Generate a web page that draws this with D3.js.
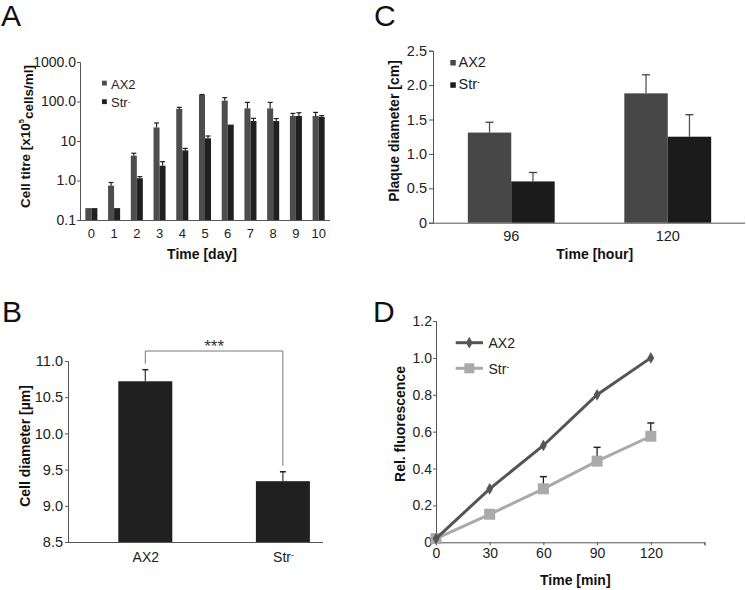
<!DOCTYPE html>
<html><head><meta charset="utf-8">
<script src="https://cdn.jsdelivr.net/npm/d3@7"></script>
<style>
body{margin:0;background:#fff;}
svg{display:block;font-family:"Liberation Sans",Arial,sans-serif;}
</style></head>
<body><svg id="c" width="746" height="590"></svg>
<script>
// ---------- DATA ----------
const days = [0,1,2,3,4,5,6,7,8,9,10];
const ax2Titre    = [0.2, 0.74, 4.25, 22, 65, 146, 105, 67, 67, 43, 43];
const ax2TitreErr = [0, 0.15, 0.65, 6.6, 6, 4, 20, 28, 28, 7, 10];
const strTitre    = [0.2, 0.2, 1.14, 2.37, 5.8, 11.7, 26, 32, 32, 43, 41];
const strTitreErr = [0, 0, 0.11, 0.63, 0.7, 1.7, 0, 5.5, 5, 9, 3];
const titreTicks = [0.1, 1, 10, 100, 1000];
const titreTickLabels = ["0.1","1.0","10","100.0","1000.0"];

const strains = ["AX2","Str"];
const cellDiam = [10.72, 9.34];
const cellDiamErr = [0.16, 0.13];
const diamTicks = [8.5, 9.0, 9.5, 10.0, 10.5, 11.0];

const hours = ["96","120"];
const ax2Plaque = [1.31, 1.88];
const ax2PlaqueErr = [0.15, 0.27];
const strPlaque = [0.60, 1.25];
const strPlaqueErr = [0.13, 0.32];
const plaqueTicks = [0, 0.5, 1.0, 1.5, 2.0, 2.5];

const minutes = [0, 30, 60, 90, 120];
const ax2Fluor = [0.02, 0.29, 0.525, 0.80, 1.0];
const strFluor = [0.02, 0.152, 0.29, 0.44, 0.575];
const strFluorErr = [0, 0, 0.066, 0.075, 0.072];
const fluorTicks = [0, 0.2, 0.4, 0.6, 0.8, 1.0, 1.2];
const minTicks = [0, 30, 60, 90, 120, 150];

// ---------- STYLE ----------
const AXIS = "#555";
const C_AX2 = "#4d4d4d", C_STR = "#202020";
const svg = d3.select("#c");

function styleAxis(g, fs){
  g.select(".domain").attr("stroke", AXIS);
  g.selectAll(".tick line").attr("stroke", AXIS);
  g.selectAll(".tick text").attr("fill","#222").style("font-size", fs+"px").style("font-family","Liberation Sans, Arial, sans-serif");
}
function strLabel(sel, base){
  sel.text(null);
  sel.append("tspan").text(base);
  sel.append("tspan").text("-").attr("dy","-0.45em").style("font-size","0.6em");
}
function panelLetter(t,x,y){
  svg.append("text").attr("x",x).attr("y",y).text(t).style("font-size","30px").attr("fill","#111");
}
function yTitle(t,x,y){
  return svg.append("text").attr("transform",`translate(${x},${y}) rotate(-90)`).attr("text-anchor","middle")
    .attr("dominant-baseline","central").style("font-size","14px").style("font-weight","bold").attr("fill","#111").text(t);
}
function xTitle(t,x,y){
  svg.append("text").attr("x",x).attr("y",y).attr("text-anchor","middle").style("font-size","14px").style("font-weight","bold").attr("fill","#111").text(t);
}

// ================= PANEL A =================
panelLetter("A",1,26);
{
  const y = d3.scaleLog().domain([0.1,1000]).range([220,62]);
  const x0 = d3.scaleBand().domain(days).range([80,330]).paddingInner(0.47).paddingOuter(0.235);
  const x1 = d3.scaleBand().domain(["AX2","Str"]).range([0,x0.bandwidth()]);
  const gy = svg.append("g").attr("transform","translate(80,0)")
    .call(d3.axisLeft(y).tickValues(titreTicks).tickFormat((d,i)=>titreTickLabels[i]).tickSize(3).tickPadding(1));
  styleAxis(gy,14);
  const gx = svg.append("g").attr("transform","translate(0,220)")
    .call(d3.axisBottom(x0).tickSize(0).tickPadding(9));
  styleAxis(gx,13);
  gx.select(".domain").attr("d","M80,0.5H330");
  const series = [["AX2",ax2Titre,ax2TitreErr,C_AX2],["Str",strTitre,strTitreErr,C_STR]];
  series.forEach(([k,vals,errs,col])=>{
    const g = svg.append("g");
    g.selectAll("rect").data(days).join("rect")
      .attr("x",d=>x0(d)+x1(k)).attr("width",x1.bandwidth())
      .attr("y",(d,i)=>y(vals[i])).attr("height",(d,i)=>y(0.1)-y(vals[i])).attr("fill",col);
    days.forEach((d,i)=>{
      if(!errs[i]) return;
      const cx = x0(d)+x1(k)+x1.bandwidth()/2;
      g.append("line").attr("x1",cx).attr("x2",cx).attr("y1",y(vals[i])).attr("y2",y(vals[i]+errs[i])).attr("stroke","#222").attr("stroke-width",1.2);
      g.append("line").attr("x1",cx-2.5).attr("x2",cx+2.5).attr("y1",y(vals[i]+errs[i])).attr("y2",y(vals[i]+errs[i])).attr("stroke","#222").attr("stroke-width",1.2);
    });
  });
  // legend
  const lg = [["AX2",C_AX2,80.7],["Str",C_STR,99.3]];
  lg.forEach(([k,col,yy])=>{
    svg.append("rect").attr("x",102).attr("y",yy).attr("width",4.8).attr("height",4.8).attr("fill",col);
    const t = svg.append("text").attr("x",111).attr("y",yy+7.8).style("font-size","13px").attr("fill","#222");
    if(k==="Str") strLabel(t,"Str"); else t.text(k);
  });
  const yt = svg.append("text").attr("transform","translate(25,136.5) rotate(-90)").attr("text-anchor","middle")
    .attr("dominant-baseline","central").style("font-size","13.5px").style("font-weight","bold").attr("fill","#111");
  yt.append("tspan").text("Cell titre [x10");
  yt.append("tspan").text("5").attr("dy","-0.5em").style("font-size","0.55em");
  yt.append("tspan").text("cells/ml]").attr("dy","0.5em");
  xTitle("Time [day]",202,259);
}

// ================= PANEL B =================
panelLetter("B",2,322);
{
  const y = d3.scaleLinear().domain([8.5,11.0]).range([542,361]);
  const x = d3.scalePoint().domain(strains).range([145.3,282.9]);
  const bw = 54;
  const gy = svg.append("g").attr("transform","translate(68,0)")
    .call(d3.axisLeft(y).tickValues(diamTicks).tickFormat(d3.format(".1f")).tickSize(3).tickPadding(2));
  styleAxis(gy,14.5);
  const gx = svg.append("g").attr("transform","translate(0,542)")
    .call(d3.axisBottom(x).tickSize(0).tickPadding(10));
  styleAxis(gx,14);
  gx.select(".domain").attr("d","M68,0.5H323");
  gx.selectAll(".tick text").filter(d=>d==="Str").each(function(){ strLabel(d3.select(this),"Str"); });
  svg.append("g").selectAll("rect").data(strains).join("rect")
    .attr("x",d=>x(d)-bw/2).attr("width",bw)
    .attr("y",(d,i)=>y(cellDiam[i])).attr("height",(d,i)=>y(8.5)-y(cellDiam[i])).attr("fill",C_STR);
  strains.forEach((d,i)=>{
    const cx=x(d), y1=y(cellDiam[i]), y2=y(cellDiam[i]+cellDiamErr[i]);
    svg.append("line").attr("x1",cx).attr("x2",cx).attr("y1",y1).attr("y2",y2).attr("stroke","#333").attr("stroke-width",1.2);
    svg.append("line").attr("x1",cx-3).attr("x2",cx+3).attr("y1",y2).attr("y2",y2).attr("stroke","#222").attr("stroke-width",1.5);
  });
  // significance bracket
  const by = 351;
  svg.append("path").attr("d",`M${x("AX2")},${y(cellDiam[0]+cellDiamErr[0])-6}V${by}H${x("Str")}V${y(cellDiam[1]+cellDiamErr[1])-6}`)
    .attr("fill","none").attr("stroke","#777").attr("stroke-width",1);
  svg.append("text").attr("x",(x("AX2")+x("Str"))/2).attr("y",by+1).attr("text-anchor","middle").style("font-size","17px").attr("fill","#333").text("***");
  yTitle("Cell diameter [µm]",25,446);
}

// ================= PANEL C =================
panelLetter("C",374,26);
{
  const y = d3.scaleLinear().domain([0,2.5]).range([222.7,50.7]);
  const x0 = d3.scaleBand().domain(hours).range([433,746]).paddingInner(0.445).paddingOuter(0.2225);
  const x1 = d3.scaleBand().domain(["AX2","Str"]).range([0,x0.bandwidth()]);
  const gy = svg.append("g").attr("transform","translate(433,0)")
    .call(d3.axisLeft(y).tickValues(plaqueTicks).tickFormat(d=>d===0?"0":d3.format(".1f")(d)).tickSize(4).tickPadding(2));
  styleAxis(gy,14.5);
  const gx = svg.append("g").attr("transform","translate(0,222.7)")
    .call(d3.axisBottom(x0).tickSize(0).tickPadding(8));
  styleAxis(gx,14.5);
  gx.select(".domain").attr("d","M433,0.5H745");
  const colsC = {AX2:"#474747", Str:"#1b1b1b"};
  [["AX2",ax2Plaque,ax2PlaqueErr],["Str",strPlaque,strPlaqueErr]].forEach(([k,vals,errs])=>{
    const g = svg.append("g");
    g.selectAll("rect").data(hours).join("rect")
      .attr("x",d=>x0(d)+x1(k)).attr("width",x1.bandwidth())
      .attr("y",(d,i)=>y(vals[i])).attr("height",(d,i)=>y(0)-y(vals[i])).attr("fill",colsC[k]);
    hours.forEach((d,i)=>{
      const cx = x0(d)+x1(k)+x1.bandwidth()/2, y2=y(vals[i]+errs[i]);
      g.append("line").attr("x1",cx).attr("x2",cx).attr("y1",y(vals[i])).attr("y2",y2).attr("stroke","#555").attr("stroke-width",1.3);
      g.append("line").attr("x1",cx-4).attr("x2",cx+4).attr("y1",y2).attr("y2",y2).attr("stroke","#444").attr("stroke-width",1.3);
    });
  });
  [["AX2",colsC.AX2,60],["Str",colsC.Str,82.3]].forEach(([k,col,yy])=>{
    svg.append("rect").attr("x",450.3).attr("y",yy).attr("width",5.5).attr("height",5.5).attr("fill",col);
    const t = svg.append("text").attr("x",458.5).attr("y",yy+7).style("font-size","14.5px").attr("fill","#222");
    if(k==="Str") strLabel(t,"Str"); else t.text(k);
  });
  yTitle("Plaque diameter [cm]",393.7,131);
  xTitle("Time [hour]",594.7,259);
}

// ================= PANEL D =================
panelLetter("D",373,322);
{
  const y = d3.scaleLinear().domain([0,1.2]).range([542.3,321]);
  const x = d3.scaleLinear().domain([0,150]).range([436,704.5]);
  const gy = svg.append("g").attr("transform","translate(436,0)")
    .call(d3.axisLeft(y).tickValues(fluorTicks).tickFormat(d=>d===0?"0":d3.format(".1f")(d)).tickSize(3).tickPadding(1));
  styleAxis(gy,14);
  const gx = svg.append("g").attr("transform","translate(0,542.3)")
    .call(d3.axisBottom(x).tickValues(minTicks).tickFormat(d=>d===150?"":d).tickSize(3).tickPadding(3));
  styleAxis(gx,14);
  const line = d3.line().x((d,i)=>x(minutes[i])).y(d=>y(d));
  const C_D1 = "#555", C_D2 = "#aaa";
  // Str series
  svg.append("path").datum(strFluor).attr("d",line).attr("fill","none").attr("stroke",C_D2).attr("stroke-width",3);
  minutes.forEach((m,i)=>{
    if(!strFluorErr[i]) return;
    const cx=x(m), y2=y(strFluor[i]+strFluorErr[i]);
    svg.append("line").attr("x1",cx).attr("x2",cx).attr("y1",y(strFluor[i])).attr("y2",y2).attr("stroke","#222").attr("stroke-width",1.3);
    svg.append("line").attr("x1",cx-3.5).attr("x2",cx+3.5).attr("y1",y2).attr("y2",y2).attr("stroke","#222").attr("stroke-width",1.5);
  });
  svg.append("g").selectAll("rect").data(strFluor).join("rect")
    .attr("x",(d,i)=>x(minutes[i])-5.5).attr("y",d=>y(d)-5.5).attr("width",11).attr("height",11).attr("fill",C_D2);
  // AX2 series
  svg.append("path").datum(ax2Fluor).attr("d",line).attr("fill","none").attr("stroke",C_D1).attr("stroke-width",3);
  const diamond = d3.symbol().type(d3.symbolDiamond).size(40);
  svg.append("g").selectAll("path").data(ax2Fluor).join("path")
    .attr("d",diamond).attr("transform",(d,i)=>`translate(${x(minutes[i])},${y(d)})`).attr("fill",C_D1);
  // legend
  svg.append("line").attr("x1",455.7).attr("x2",483).attr("y1",342.7).attr("y2",342.7).attr("stroke",C_D1).attr("stroke-width",3);
  svg.append("path").attr("d",diamond).attr("transform","translate(469.3,342.7)").attr("fill",C_D1);
  svg.append("text").attr("x",488.5).attr("y",348).style("font-size","14px").attr("fill","#222").text("AX2");
  svg.append("line").attr("x1",455.7).attr("x2",483).attr("y1",368.3).attr("y2",368.3).attr("stroke",C_D2).attr("stroke-width",3);
  svg.append("rect").attr("x",464.3).attr("y",363.3).attr("width",10).attr("height",10).attr("fill",C_D2);
  const t = svg.append("text").attr("x",488.5).attr("y",373.5).style("font-size","14px").attr("fill","#222");
  strLabel(t,"Str");
  yTitle("Rel. fluorescence",399.7,424);
  xTitle("Time [min]",575.3,585);
}
</script></body></html>
